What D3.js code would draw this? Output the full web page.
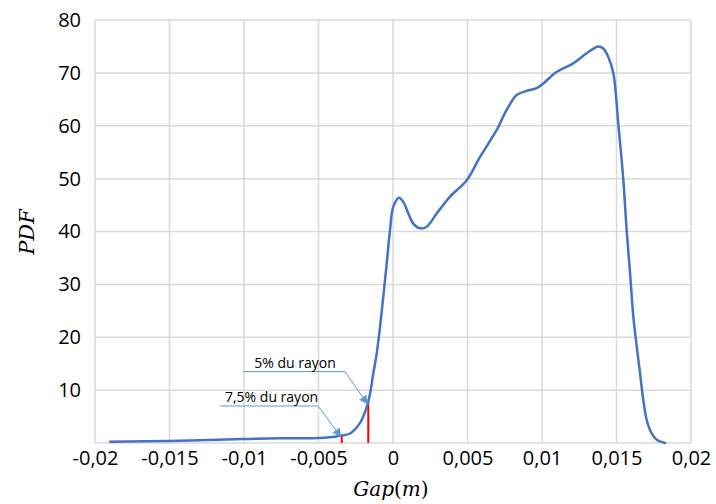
<!DOCTYPE html>
<html><head><meta charset="utf-8">
<script src="https://cdn.jsdelivr.net/npm/d3@7"></script>
<style>body{margin:0;background:#fff}svg{display:block}</style>
</head><body><svg id="c" width="716" height="504"></svg>
<script>
// Data (Gap in m, PDF)
const gapValues = [-0.01899,-0.0151,-0.01007,-0.00772,-0.00544,-0.00389,-0.00344,-0.00289,-0.00221,-0.00166,-0.00132,-0.00109,-0.00087,-0.00065,-0.00042,-0.0002,0.00002,0.0004,0.00069,0.00103,0.00136,0.00181,0.00226,0.00293,0.00383,0.00495,0.00584,0.00696,0.00763,0.0083,0.00897,0.00964,0.01009,0.01099,0.0121,0.013,0.01378,0.01411,0.01445,0.01479,0.01512,0.01546,0.01568,0.01591,0.01613,0.01636,0.01658,0.0168,0.01703,0.01736,0.0177,0.01826];
const pdfValues = [0.25,0.4,0.75,0.9,0.9,1.2,1.4,1.8,3.8,7.8,13.2,17,22,27.7,34,40.3,44.7,46.4,45.6,43.4,41.5,40.6,40.9,43.4,46.6,49.7,54.1,59.2,63,65.8,66.6,67.1,68,70.2,71.8,73.7,75.0,74.6,73,69.9,60.4,49.7,40.3,32.1,23.9,18.2,13.2,8.1,4.3,1.8,0.6,0.0];
const xTicks = [-0.02,-0.015,-0.01,-0.005,0,0.005,0.01,0.015,0.02];
const xTickLabels = ["-0,02","-0,015","-0,01","-0,005","0","0,005","0,01","0,015","0,02"];
const yTicks = [10,20,30,40,50,60,70,80];
const markerGaps = [-0.00344,-0.00166];
const markerPdfs = [1.4,7.6];
const markerLabels = ["7,5% du rayon","5% du rayon"];

const svg = d3.select("#c");
const L=95, R=691, T=20, B=443;
const x = d3.scaleLinear().domain([-0.02,0.02]).range([L,R]);
const y = d3.scaleLinear().domain([0,80]).range([B,T]);
const grid = "#d9d9d9";

// gridlines
svg.append("g").selectAll("line").data(xTicks).join("line")
  .attr("x1",d=>x(d)).attr("x2",d=>x(d)).attr("y1",T).attr("y2",B)
  .attr("stroke",grid).attr("stroke-width",1.5);
svg.append("g").selectAll("line").data([0].concat(yTicks)).join("line")
  .attr("x1",L).attr("x2",R).attr("y1",d=>y(d)).attr("y2",d=>y(d))
  .attr("stroke",grid).attr("stroke-width",1.5);

// axes labels
const font = "'Open Sans', 'Liberation Sans', Arial, sans-serif";
const yAxis = d3.axisLeft(y).tickValues(yTicks).tickSize(0).tickPadding(14);
const gy = svg.append("g").attr("transform",`translate(${L},0)`).call(yAxis);
gy.select(".domain").remove();
gy.selectAll("text").attr("font-family",font).attr("font-size",20).attr("fill","#000");
const xAxis = d3.axisBottom(x).tickValues(xTicks).tickFormat((d,i)=>xTickLabels[i]).tickSize(0).tickPadding(8);
const gx = svg.append("g").attr("transform",`translate(0,${B})`).call(xAxis);
gx.select(".domain").remove();
gx.selectAll("text").attr("font-family",font).attr("font-size",20).attr("fill","#000");

// red markers
svg.append("g").selectAll("line").data(markerGaps).join("line")
  .attr("x1",d=>x(d)).attr("x2",d=>x(d)).attr("y1",y(0)).attr("y2",(d,i)=>y(markerPdfs[i]))
  .attr("stroke","#ff0000").attr("stroke-width",2);

// curve
const pts = gapValues.map((g,i)=>[g,pdfValues[i]]);
svg.append("path").datum(pts)
  .attr("d", d3.line().x(d=>x(d[0])).y(d=>y(d[1])).curve(d3.curveCatmullRom.alpha(0.5)))
  .attr("fill","none").attr("stroke","#4472C4").attr("stroke-width",2.5)
  .attr("stroke-linejoin","round").attr("stroke-linecap","round");

// callouts
const defs = svg.append("defs");
defs.append("marker").attr("id","ah").attr("viewBox","0 0 10 10").attr("refX",9).attr("refY",5)
  .attr("markerWidth",9).attr("markerHeight",9).attr("orient","auto-start-reverse")
  .attr("markerUnits","userSpaceOnUse")
  .append("path").attr("d","M0,0 L10,5 L0,10 z").attr("fill","#5B9BD5");
const calloutTextGap = [-0.00815, -0.00658];
const calloutTextPdf = [7.0, 13.5];
const calloutLineStart = [-0.0116, -0.01007];
const calloutLineEnd = [-0.00503, -0.00322];
markerGaps.forEach((g,i)=>{
  const yy = y(calloutTextPdf[i]);
  svg.append("path")
    .attr("d",`M${x(calloutLineStart[i])},${yy} L${x(calloutLineEnd[i])},${yy} L${x(g)-1},${y(markerPdfs[i])+1}`)
    .attr("fill","none").attr("stroke","#5B9BD5").attr("stroke-width",1)
    .attr("marker-end","url(#ah)");
  svg.append("text").attr("x",x(calloutTextGap[i])).attr("y",yy-4)
    .attr("text-anchor","middle").attr("font-family",font).attr("font-size",14).attr("fill","#000")
    .text(markerLabels[i]);
});

// axis titles
const serif = "'DejaVu Serif', 'Liberation Serif', serif";
svg.append("text").attr("transform","translate(34,232) rotate(-90)").attr("text-anchor","middle")
  .attr("font-family",serif).attr("font-style","italic").attr("font-size",21).text("PDF");
const t = svg.append("text").attr("x",x(0)-2).attr("y",496).attr("text-anchor","middle")
  .attr("font-family",serif).attr("font-size",20);
t.append("tspan").attr("font-style","italic").text("Gap");
t.append("tspan").text("(");
t.append("tspan").attr("font-style","italic").text("m");
t.append("tspan").text(")");
</script></body></html>
